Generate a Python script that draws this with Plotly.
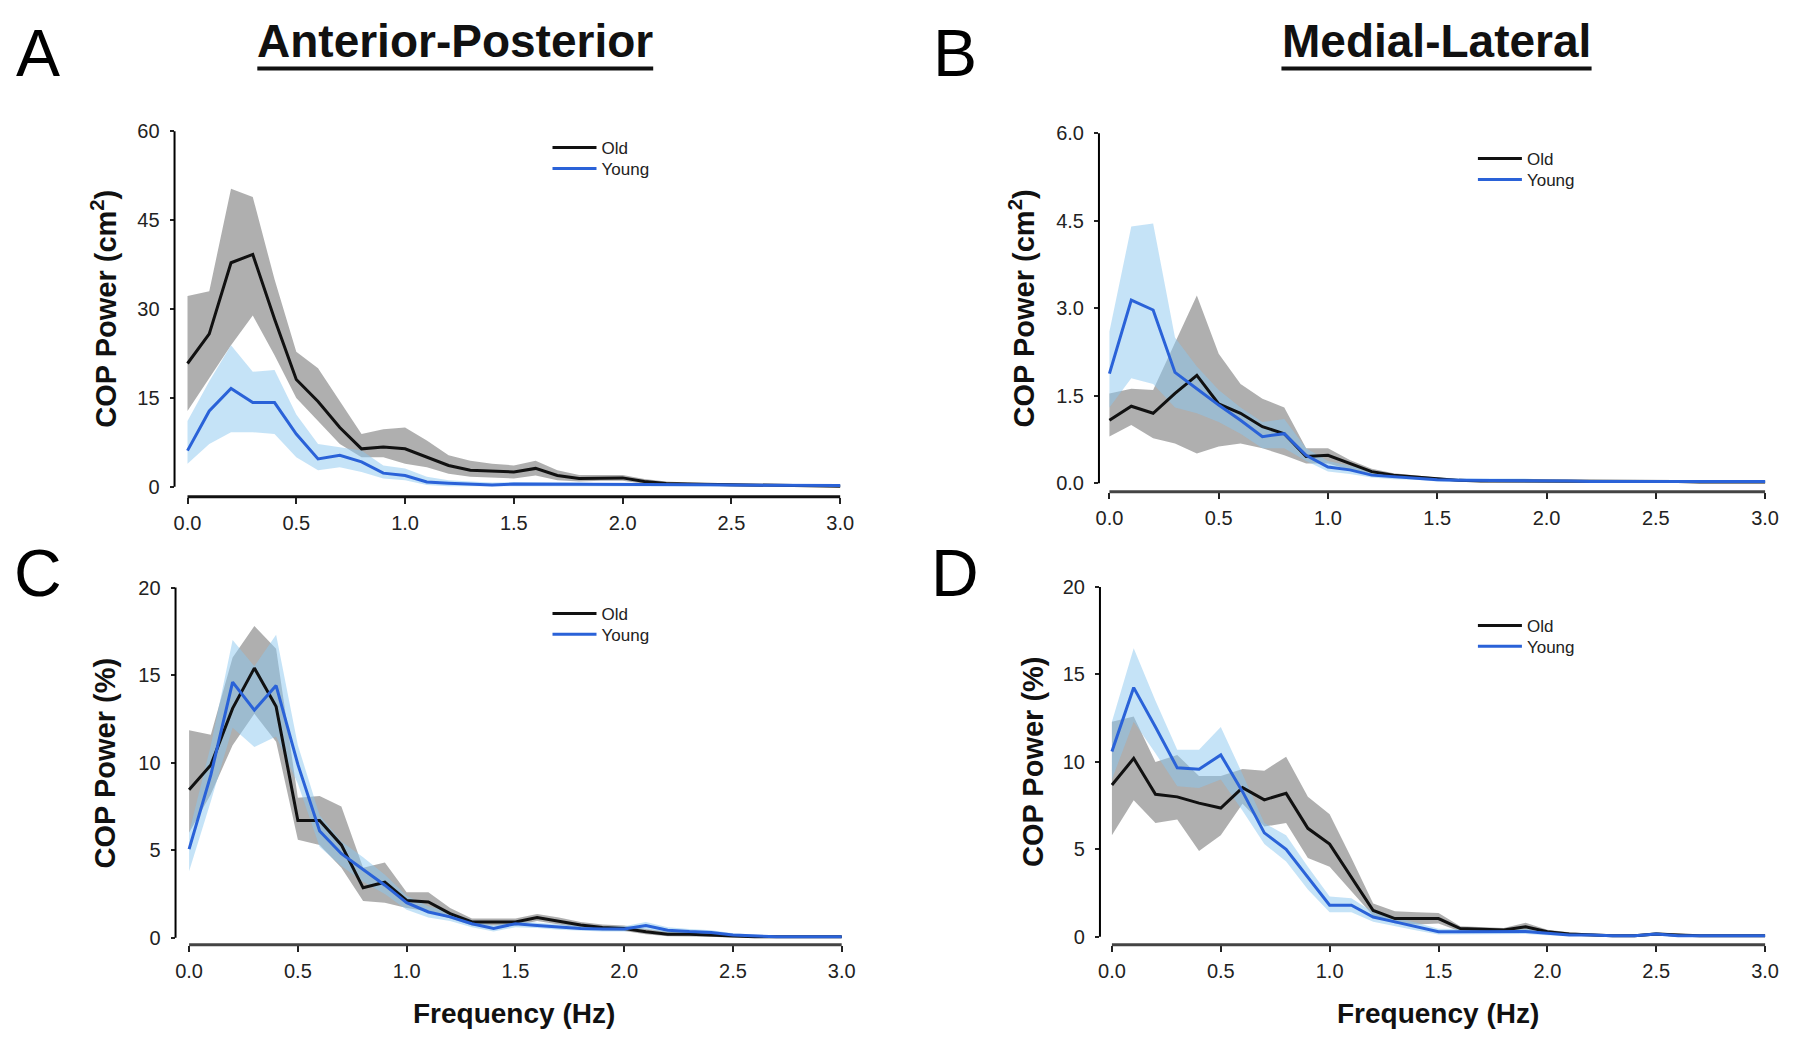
import plotly.graph_objects as go

# ---------------- data ----------------
freq = [0.0, 0.1, 0.2, 0.3, 0.4, 0.5, 0.6, 0.7, 0.8, 0.9, 1.0, 1.1, 1.2, 1.3, 1.4, 1.5,
        1.6, 1.7, 1.8, 1.9, 2.0, 2.1, 2.2, 2.3, 2.4, 2.5, 2.6, 2.7, 2.8, 2.9, 3.0]

# Panel A: Anterior-Posterior, absolute power (cm^2)
a_old = [20.8, 25.8, 37.8, 39.2, 28.3, 18.1, 14.4, 10.0, 6.4, 6.7, 6.4, 5.0, 3.6, 2.8, 2.6, 2.5,
         3.1, 1.9, 1.4, 1.5, 1.5, 0.9, 0.55, 0.45, 0.4, 0.25, 0.2, 0.15, 0.1, 0.1, 0.1]
a_old_hi = [32.2, 33.0, 50.3, 48.9, 35.0, 22.8, 20.0, 14.4, 8.9, 9.7, 10.0, 7.8, 5.3, 4.4, 3.9, 3.6,
            4.4, 2.8, 2.0, 2.0, 2.0, 1.3, 0.9, 0.7, 0.6, 0.45, 0.35, 0.3, 0.2, 0.2, 0.2]
a_old_lo = [12.8, 18.3, 23.9, 28.9, 22.2, 15.0, 11.1, 7.2, 5.0, 5.0, 3.9, 3.3, 2.2, 1.7, 1.5, 1.4,
            1.9, 1.1, 0.9, 1.0, 1.0, 0.5, 0.25, 0.2, 0.2, 0.1, 0.05, 0.05, 0.02, 0.02, 0.02]
a_young = [6.1, 12.8, 16.6, 14.2, 14.2, 8.9, 4.7, 5.3, 4.2, 2.3, 1.9, 0.8, 0.6, 0.45, 0.3, 0.45,
           0.45, 0.4, 0.4, 0.35, 0.35, 0.35, 0.4, 0.4, 0.35, 0.3, 0.3, 0.3, 0.25, 0.2, 0.2]
a_young_hi = [11.1, 17.8, 23.9, 19.4, 19.7, 12.2, 7.2, 6.7, 6.1, 3.6, 3.1, 1.7, 1.1, 0.9, 0.7, 0.8,
              0.8, 0.7, 0.7, 0.6, 0.6, 0.6, 0.7, 0.7, 0.6, 0.5, 0.5, 0.5, 0.4, 0.35, 0.35]
a_young_lo = [3.9, 7.2, 9.2, 9.2, 8.9, 5.0, 2.8, 3.3, 2.5, 1.4, 1.1, 0.3, 0.1, 0.05, 0.0, 0.1,
              0.1, 0.1, 0.1, 0.1, 0.1, 0.1, 0.1, 0.1, 0.1, 0.1, 0.1, 0.1, 0.1, 0.05, 0.05]

# Panel B: Medial-Lateral, absolute power (cm^2)
b_old = [1.08, 1.32, 1.2, 1.54, 1.85, 1.36, 1.2, 0.97, 0.85, 0.46, 0.48, 0.34, 0.2, 0.14, 0.11, 0.09,
         0.05, 0.04, 0.04, 0.04, 0.04, 0.03, 0.03, 0.03, 0.03, 0.03, 0.03, 0.02, 0.02, 0.02, 0.02]
b_old_hi = [1.54, 1.62, 1.6, 2.4, 3.22, 2.22, 1.7, 1.45, 1.3, 0.6, 0.6, 0.4, 0.25, 0.17, 0.13, 0.1,
            0.07, 0.06, 0.06, 0.06, 0.06, 0.05, 0.05, 0.05, 0.05, 0.05, 0.04, 0.04, 0.04, 0.04, 0.04]
b_old_lo = [0.8, 1.0, 0.77, 0.68, 0.51, 0.63, 0.68, 0.6, 0.48, 0.34, 0.34, 0.23, 0.14, 0.1, 0.07, 0.06,
            0.03, 0.02, 0.02, 0.02, 0.02, 0.01, 0.01, 0.01, 0.01, 0.01, 0.01, 0.01, 0.01, 0.01, 0.01]
b_young = [1.88, 3.14, 2.97, 1.9, 1.62, 1.34, 1.08, 0.8, 0.85, 0.48, 0.28, 0.23, 0.14, 0.11, 0.09, 0.06,
           0.05, 0.05, 0.05, 0.05, 0.04, 0.04, 0.03, 0.03, 0.03, 0.03, 0.03, 0.03, 0.03, 0.03, 0.03]
b_young_hi = [2.6, 4.4, 4.45, 2.5, 2.0, 1.6, 1.3, 1.05, 1.1, 0.6, 0.38, 0.3, 0.2, 0.15, 0.12, 0.1,
              0.08, 0.08, 0.08, 0.08, 0.06, 0.06, 0.05, 0.05, 0.05, 0.05, 0.05, 0.05, 0.05, 0.05, 0.05]
b_young_lo = [1.3, 1.8, 1.7, 1.3, 1.2, 1.05, 0.85, 0.6, 0.6, 0.38, 0.2, 0.16, 0.1, 0.07, 0.06, 0.03,
              0.02, 0.02, 0.02, 0.02, 0.02, 0.02, 0.01, 0.01, 0.01, 0.01, 0.01, 0.01, 0.01, 0.01, 0.01]

# Panel C: Anterior-Posterior, relative power (%)
c_old = [8.45, 9.87, 13.1, 15.4, 13.2, 6.7, 6.7, 5.3, 2.85, 3.17, 2.13, 2.04, 1.38, 0.9, 0.9, 0.9,
         1.15, 0.94, 0.72, 0.58, 0.53, 0.34, 0.2, 0.2, 0.15, 0.06, 0.05, 0.05, 0.05, 0.05, 0.05]
c_old_hi = [11.85, 11.6, 16.0, 17.8, 16.5, 8.0, 8.1, 7.5, 4.0, 4.3, 2.6, 2.6, 1.7, 1.1, 1.1, 1.1,
            1.35, 1.15, 0.9, 0.75, 0.7, 0.5, 0.35, 0.35, 0.3, 0.15, 0.12, 0.1, 0.1, 0.1, 0.1]
c_old_lo = [6.0, 8.2, 11.0, 12.8, 11.2, 5.6, 5.3, 4.0, 2.1, 2.0, 1.7, 1.5, 1.1, 0.7, 0.7, 0.7,
            0.95, 0.75, 0.55, 0.42, 0.38, 0.2, 0.08, 0.08, 0.05, 0.0, 0.0, 0.0, 0.0, 0.0, 0.0]
c_young = [5.06, 9.3, 14.6, 13.0, 14.4, 9.9, 6.1, 4.8, 3.9, 3.0, 2.0, 1.47, 1.19, 0.8, 0.53, 0.8,
           0.7, 0.6, 0.53, 0.5, 0.5, 0.7, 0.43, 0.35, 0.3, 0.15, 0.1, 0.05, 0.05, 0.05, 0.05]
c_young_hi = [6.0, 11.0, 17.0, 15.5, 17.3, 11.0, 7.0, 5.5, 4.6, 3.6, 2.4, 1.8, 1.45, 1.0, 0.7, 0.95,
              0.85, 0.75, 0.68, 0.65, 0.65, 0.9, 0.6, 0.5, 0.42, 0.25, 0.18, 0.1, 0.1, 0.1, 0.1]
c_young_lo = [3.8, 7.8, 12.0, 10.9, 11.5, 8.8, 5.2, 4.1, 3.2, 2.5, 1.6, 1.15, 0.95, 0.6, 0.35, 0.6,
              0.55, 0.45, 0.4, 0.35, 0.35, 0.5, 0.28, 0.2, 0.18, 0.05, 0.02, 0.0, 0.0, 0.0, 0.0]

# Panel D: Medial-Lateral, relative power (%)
d_old = [8.68, 10.2, 8.15, 8.0, 7.64, 7.36, 8.53, 7.83, 8.2, 6.2, 5.3, 3.4, 1.5, 1.04, 1.04, 1.04,
         0.47, 0.42, 0.38, 0.57, 0.28, 0.15, 0.1, 0.05, 0.06, 0.15, 0.1, 0.05, 0.05, 0.05, 0.05]
d_old_hi = [12.3, 12.6, 10.0, 10.4, 9.2, 9.2, 9.6, 9.5, 10.3, 8.0, 7.0, 4.5, 1.9, 1.45, 1.4, 1.35,
            0.6, 0.55, 0.5, 0.8, 0.4, 0.25, 0.18, 0.1, 0.12, 0.25, 0.18, 0.1, 0.1, 0.1, 0.1]
d_old_lo = [5.8, 7.8, 6.5, 6.7, 4.9, 5.8, 7.6, 6.3, 6.5, 4.5, 4.0, 2.6, 1.2, 0.75, 0.7, 0.75,
            0.3, 0.3, 0.25, 0.35, 0.15, 0.05, 0.03, 0.0, 0.0, 0.05, 0.03, 0.0, 0.0, 0.0, 0.0]
d_young = [10.6, 14.25, 12.0, 9.66, 9.58, 10.4, 8.3, 5.94, 5.0, 3.4, 1.8, 1.8, 1.13, 0.85, 0.57, 0.28,
           0.28, 0.28, 0.28, 0.3, 0.2, 0.1, 0.1, 0.05, 0.05, 0.15, 0.05, 0.05, 0.05, 0.05, 0.05]
d_young_hi = [12.3, 16.5, 13.5, 10.7, 10.7, 12.0, 9.3, 6.5, 5.8, 4.0, 2.3, 2.2, 1.4, 1.1, 0.8, 0.45,
              0.42, 0.4, 0.4, 0.45, 0.32, 0.2, 0.18, 0.1, 0.1, 0.25, 0.1, 0.1, 0.1, 0.1, 0.1]
d_young_lo = [9.0, 12.3, 10.5, 8.6, 8.5, 9.0, 7.2, 5.3, 4.3, 2.7, 1.4, 1.4, 0.85, 0.6, 0.35, 0.12,
              0.15, 0.15, 0.15, 0.15, 0.08, 0.02, 0.02, 0.0, 0.0, 0.05, 0.0, 0.0, 0.0, 0.0, 0.0]

x_ticks = [0.0, 0.5, 1.0, 1.5, 2.0, 2.5, 3.0]
x_ticktext = ["0.0", "0.5", "1.0", "1.5", "2.0", "2.5", "3.0"]
a_yticks = [0, 15, 30, 45, 60]
a_yticktext = ["0", "15", "30", "45", "60"]
b_yticks = [0.0, 1.5, 3.0, 4.5, 6.0]
b_yticktext = ["0.0", "1.5", "3.0", "4.5", "6.0"]
pct_yticks = [0, 5, 10, 15, 20]
pct_yticktext = ["0", "5", "10", "15", "20"]

series_names = ["Old", "Young"]
panel_letters = ["A", "B", "C", "D"]
column_titles = ["Anterior-Posterior", "Medial-Lateral"]
ytitle_abs = "COP Power (cm<sup>2</sup>)"
ytitle_pct = "COP Power (%)"
xtitle = "Frequency (Hz)"

# ---------------- styling / layout ----------------
# the page body has an 8px margin, so the figure is drawn 8px smaller and offset
OFF = 8
W, H = 1800 - OFF, 1046 - OFF
OLD_LINE = "#111111"
YOUNG_LINE = "#2a62d8"
OLD_FILL = "rgba(110,110,110,0.55)"
YOUNG_FILL = "rgba(140,200,240,0.50)"
FONT = "Liberation Sans, Arial, Helvetica, sans-serif"
TICKFONT = "Liberation Sans, Arial, sans-serif"


def fx(px):
    return (px - OFF) / W


def fy(py):
    return 1 - (py - OFF) / H


# pixel geometry (page pixels) per panel
geo = {
    1: dict(axis=172, x0=185, x3=839.5, ytop=60, ytop_px=129, y0=487, xline=497),
    2: dict(axis=1099, x0=1109.5, x3=1767, ytop=6.0, ytop_px=131, y0=483.5, xline=492),
    3: dict(axis=173, x0=186.6, x3=841, ytop=20, ytop_px=588.5, y0=941, xline=948),
    4: dict(axis=1100, x0=1112, x3=1767, ytop=20, ytop_px=588, y0=940, xline=948),
}

panels = [
    (1, a_old, a_old_hi, a_old_lo, a_young, a_young_hi, a_young_lo, a_yticks, a_yticktext),
    (2, b_old, b_old_hi, b_old_lo, b_young, b_young_hi, b_young_lo, b_yticks, b_yticktext),
    (3, c_old, c_old_hi, c_old_lo, c_young, c_young_hi, c_young_lo, pct_yticks, pct_yticktext),
    (4, d_old, d_old_hi, d_old_lo, d_young, d_young_hi, d_young_lo, pct_yticks, pct_yticktext),
]

fig = go.Figure()
layout = dict(
    width=W, height=H, margin=dict(l=0, r=0, t=0, b=0),
    paper_bgcolor="white", plot_bgcolor="white", showlegend=True,
    font=dict(family=FONT, color="black"),
)
shapes = []
annotations = []

# legend rows: (left of line sample, centre y of Old row, centre y of Young row)
legend_pos = {1: (553, 146, 167), 2: (1481, 157, 178), 3: (553, 615, 636), 4: (1481, 627, 648)}

for (k, old, old_hi, old_lo, young, young_hi, young_lo, yt, ytt) in panels:
    g = geo[k]
    xs = "" if k == 1 else str(k)
    xa, ya = "x" + xs, "y" + xs
    lg_old = "legend" if k == 1 else "legend" + str(2 * k - 1)
    lg_young = "legend" + str(2 * k)

    perhz = (g["x3"] - g["x0"]) / 3.0
    ppu = (g["y0"] - g["ytop_px"]) / g["ytop"]
    right_px = g["x3"] + 12
    top_px = g["ytop_px"] - 8
    xr = [(g["axis"] - g["x0"]) / perhz, 3.0 + (right_px - g["x3"]) / perhz]
    yr = [-(g["xline"] - g["y0"]) / ppu, g["ytop"] + (g["ytop_px"] - top_px) / ppu]

    layout["xaxis" + xs] = dict(
        domain=[fx(g["axis"]), fx(right_px)], range=xr, anchor=ya,
        showline=False, zeroline=False, showgrid=False,
        ticks="outside", ticklen=6, tickwidth=2, tickcolor="#222",
        tickvals=x_ticks, ticktext=x_ticktext,
        tickfont=dict(family=TICKFONT, size=20, color="#222"), ticklabelstandoff=2,
    )
    layout["yaxis" + xs] = dict(
        domain=[fy(g["xline"]), fy(top_px)], range=yr, anchor=xa,
        showline=False, zeroline=False, showgrid=False,
        ticks="outside", ticklen=4, tickwidth=2, tickcolor="#222",
        tickvals=yt, ticktext=ytt,
        tickfont=dict(family=TICKFONT, size=20, color="#222"), ticklabelstandoff=6,
    )

    # offset axis lines
    shapes.append(dict(type="line", xref=xa + " domain", yref=ya, x0=0, x1=0, y0=0, y1=g["ytop"],
                       line=dict(color="black", width=2)))
    shapes.append(dict(type="line", xref=xa, yref=ya + " domain", x0=0, x1=3.0, y0=0, y1=0,
                       line=dict(color="#444" if k != 1 else "#111", width=3)))

    # bands
    fig.add_trace(go.Scatter(x=freq + freq[::-1], y=old_hi + old_lo[::-1], fill="toself",
                             fillcolor=OLD_FILL, line=dict(width=0), mode="lines",
                             showlegend=False, hoverinfo="skip", xaxis=xa, yaxis=ya))
    fig.add_trace(go.Scatter(x=freq + freq[::-1], y=young_hi + young_lo[::-1], fill="toself",
                             fillcolor=YOUNG_FILL, line=dict(width=0), mode="lines",
                             showlegend=False, hoverinfo="skip", xaxis=xa, yaxis=ya))
    # mean lines
    fig.add_trace(go.Scatter(x=freq, y=old, mode="lines", name=series_names[0],
                             line=dict(color=OLD_LINE, width=3), xaxis=xa, yaxis=ya, legend=lg_old))
    fig.add_trace(go.Scatter(x=freq, y=young, mode="lines", name=series_names[1],
                             line=dict(color=YOUNG_LINE, width=3), xaxis=xa, yaxis=ya, legend=lg_young))

    lx, ly_old, ly_young = legend_pos[k]
    for lg, ly in ((lg_old, ly_old), (lg_young, ly_young)):
        layout[lg] = dict(x=fx(lx - 7), y=fy(ly), xanchor="left", yanchor="middle",
                          bgcolor="rgba(0,0,0,0)", borderwidth=0, tracegroupgap=0,
                          font=dict(family=TICKFONT, size=17, color="#222"), itemwidth=44)

    # y axis title
    ytitle = ytitle_abs if k in (1, 2) else ytitle_pct
    ty_x = {1: 101, 2: 1022, 3: 102, 4: 1033}[k]
    annotations.append(dict(text="<b>" + ytitle + "</b>", textangle=-90, xref="paper", yref="paper",
                            x=fx(ty_x), y=fy((g["ytop_px"] + g["y0"]) / 2), showarrow=False,
                            xanchor="center", yanchor="middle",
                            font=dict(family=FONT, size=29, color="#111")))
    if k in (3, 4):
        annotations.append(dict(text="<b>" + xtitle + "</b>", xref="paper", yref="paper",
                                x=fx((g["x0"] + g["x3"]) / 2 - 1), y=fy(1017), showarrow=False,
                                xanchor="center", yanchor="middle",
                                font=dict(family=FONT, size=28, color="#111")))

# panel letters
for letter, (px, py) in zip(panel_letters, [(35, 50), (955, 50), (35, 574), (955, 574)]):
    annotations.append(dict(text=letter, xref="paper", yref="paper", x=fx(px), y=fy(py),
                            showarrow=False, xanchor="center", yanchor="middle",
                            font=dict(family=FONT, size=66, color="black")))

# column titles with underline
for title, (cx, x0u, x1u) in zip(column_titles, [(453, 255, 652), (1437, 1282, 1593)]):
    annotations.append(dict(text="<b>" + title + "</b>", xref="paper", yref="paper",
                            x=fx(cx), y=fy(38), showarrow=False, xanchor="center", yanchor="middle",
                            font=dict(family=FONT, size=46, color="#111")))
    shapes.append(dict(type="line", xref="paper", yref="paper", x0=fx(x0u), x1=fx(x1u),
                       y0=fy(66), y1=fy(66), line=dict(color="#111", width=4)))

layout["shapes"] = shapes
layout["annotations"] = annotations
fig.update_layout(**layout)

fig.write_html("out.html")
